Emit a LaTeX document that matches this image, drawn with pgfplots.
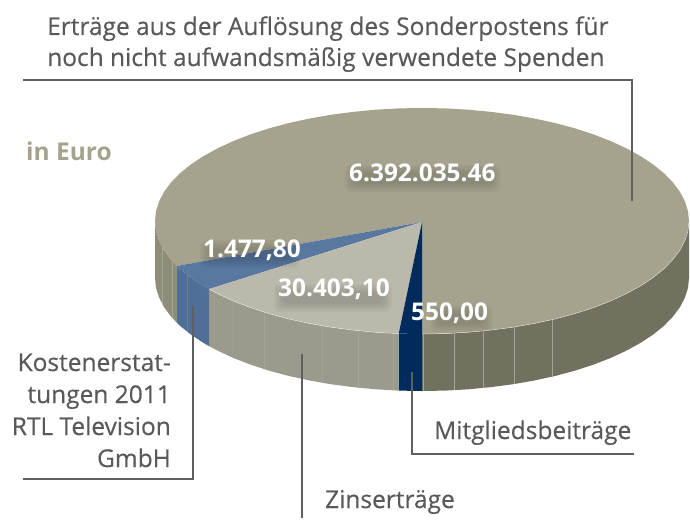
\documentclass[border=0pt]{standalone}
\usepackage{pgfplots}
\pgfplotsset{compat=1.18}
\usepackage{fontspec}
\setmainfont{Open Sans}
\definecolor{bigtop}{HTML}{A5A38E}
\definecolor{bigside}{HTML}{72715F}
\definecolor{bigleft}{HTML}{8E8D7A}
\definecolor{bluetop}{HTML}{5878A0}
\definecolor{blueside}{HTML}{4F6F99}
\definecolor{greytop}{HTML}{BBB9AB}
\definecolor{greyside}{HTML}{9A9A8D}
\definecolor{navy}{HTML}{002B5C}
\definecolor{stripe}{HTML}{A5A597}
\definecolor{lead}{HTML}{5F5F5F}
\definecolor{txt}{HTML}{58595B}
\newcommand{\shr}[3]{\fill[black,opacity=0.03,rounded corners=6pt] ([shift={(#3,#3)}]axis cs:#1) rectangle ([shift={(-#3,-#3)}]axis cs:#2);}
\newcommand{\shd}[2]{\shr{#1}{#2}{0pt}\shr{#1}{#2}{2pt}\shr{#1}{#2}{4pt}\shr{#1}{#2}{6pt}\shr{#1}{#2}{8pt}}
\newcommand{\lbl}[2]{\node[anchor=base west,inner sep=0pt,text=white,font=\fontsize{24.4}{24.4}\selectfont\bfseries] at (axis cs:#1) {#2};}
\newcommand{\txt}[3][base west]{\node[anchor=#1,inner sep=0pt,text=txt,font=\fontsize{24.5}{24.5}\selectfont\addfontfeature{FakeBold=0.35}] at (axis cs:#2) {#3};}
\begin{document}
\begin{tikzpicture}
\begin{axis}[scale only axis,width=690pt,height=518pt,xmin=0,xmax=690,ymin=0,ymax=518,y dir=reverse,axis lines=none,clip=false]
\path (axis cs:0,0) rectangle (axis cs:690,518);
% big slice side (right)
\addplot[draw=none,fill=bigside] coordinates {(689,221)(688,230.9)(684.9,240.6)(679.9,250.2)(672.9,259.6)(664,268.8)(653.2,277.5)(640.7,285.8)(626.5,293.6)(610.8,300.9)(593.6,307.6)(575.1,313.6)(555.5,318.9)(534.8,323.4)(513.3,327.2)(491.1,330.1)(468.4,332.3)(445.3,333.6)(422,334)(422,391)(445.3,390.6)(468.4,389.3)(491.1,387.1)(513.3,384.2)(534.8,380.4)(555.5,375.9)(575.1,370.6)(593.6,364.6)(610.8,357.9)(626.5,350.6)(640.7,342.8)(653.2,334.5)(664,325.8)(672.9,316.6)(679.9,307.2)(684.9,297.6)(688,287.9)(689,278)} -- cycle;
% navy side
\addplot[draw=none,fill=navy] coordinates {(422,334)(398.7,333.6)(398.7,390.6)(422,391)} -- cycle;
% grey side
\addplot[draw=none,fill=greyside] coordinates {(398.7,333.6)(375.6,332.3)(352.9,330.1)(330.7,327.2)(309.2,323.4)(288.5,318.9)(268.9,313.6)(250.4,307.6)(233.2,300.9)(217.5,293.6)(209,289.1)(209,346.1)(217.5,350.6)(233.2,357.9)(250.4,364.6)(268.9,370.6)(288.5,375.9)(309.2,380.4)(330.7,384.2)(352.9,387.1)(375.6,389.3)(398.7,390.6)} -- cycle;
% blue side
\addplot[draw=none,fill=blueside] coordinates {(209,289.1)(203.3,285.8)(190.8,277.5)(180,268.8)(177,265.9)(177,322.9)(180,325.8)(190.8,334.5)(203.3,342.8)(209,346.1)} -- cycle;
% left side
\addplot[draw=none,fill=bigleft] coordinates {(177,265.9)(171.1,259.6)(164.1,250.2)(159.1,240.6)(156,230.9)(155,221)(155,278)(156,287.9)(159.1,297.6)(164.1,307.2)(171.1,316.6)(177,322.9)} -- cycle;
% stripes
\addplot[draw=stripe,line width=0.6pt] coordinates {(423,334)(423,391)};
\addplot[draw=stripe,line width=0.6pt] coordinates {(454,333.2)(454,390.2)};
\addplot[draw=stripe,line width=0.6pt] coordinates {(483,331)(483,388)};
\addplot[draw=stripe,line width=0.6pt] coordinates {(514,327)(514,384)};
\addplot[draw=stripe,line width=0.6pt] coordinates {(552,319.7)(552,376.7)};
\addplot[draw=stripe,line width=0.6pt,opacity=.3] coordinates {(232,300.4)(232,357.4)};
\addplot[draw=stripe,line width=0.6pt] coordinates {(264,312)(264,369)};
\addplot[draw=stripe,line width=0.6pt] coordinates {(322,325.8)(322,382.8)};
\addplot[draw=stripe,line width=0.6pt] coordinates {(358,330.7)(358,387.7)};
\addplot[draw=stripe,line width=0.6pt] coordinates {(393,333.3)(393,390.3)};
\addplot[draw=stripe,line width=0.6pt] coordinates {(162,246.7)(162,303.7)};
\addplot[draw=stripe,line width=0.6pt] coordinates {(172,260.7)(172,317.7)};
\addplot[draw=stripe,line width=0.4pt,opacity=.3] coordinates {(187,274.7)(187,331.7)};
% top faces
\addplot[draw=none,fill=bigtop] coordinates {(422,222)(422,334)(445.3,333.6)(468.4,332.3)(491.1,330.1)(513.3,327.2)(534.8,323.4)(555.5,318.9)(575.1,313.6)(593.6,307.6)(610.8,300.9)(626.5,293.6)(640.7,285.8)(653.2,277.5)(664,268.8)(672.9,259.6)(679.9,250.2)(684.9,240.6)(688,230.9)(689,221)(688,211.1)(684.9,201.4)(679.9,191.8)(672.9,182.4)(664,173.2)(653.2,164.5)(640.7,156.2)(626.5,148.4)(610.8,141.1)(593.6,134.4)(575.1,128.4)(555.5,123.1)(534.8,118.6)(513.3,114.8)(491.1,111.9)(468.4,109.7)(445.3,108.4)(422,108)(398.7,108.4)(375.6,109.7)(352.9,111.9)(330.7,114.8)(309.2,118.6)(288.5,123.1)(268.9,128.4)(250.4,134.4)(233.2,141.1)(217.5,148.4)(203.3,156.2)(190.8,164.5)(180,173.2)(171.1,182.4)(164.1,191.8)(159.1,201.4)(156,211.1)(155,221)(156,230.9)(159.1,240.6)(164.1,250.2)(171.1,259.6)(177,265.9)} -- cycle;
\addplot[draw=none,fill=bluetop] coordinates {(422,222)(177,265.9)(180,268.8)(190.8,277.5)(203.3,285.8)(209,289.1)} -- cycle;
\addplot[draw=none,fill=greytop] coordinates {(422,222)(209,289.1)(217.5,293.6)(233.2,300.9)(250.4,307.6)(268.9,313.6)(288.5,318.9)(309.2,323.4)(330.7,327.2)(352.9,330.1)(375.6,332.3)(398.7,333.6)} -- cycle;
\addplot[draw=none,fill=navy] coordinates {(422,222)(398.7,333.6)(422,334)} -- cycle;
% rim highlight
\addplot[draw=white,opacity=.55,line width=0.5pt] coordinates {(689,221)(688,230.9)(684.9,240.6)(679.9,250.2)(672.9,259.6)(664,268.8)(653.2,277.5)(640.7,285.8)(626.5,293.6)(610.8,300.9)(593.6,307.6)(575.1,313.6)(555.5,318.9)(534.8,323.4)(513.3,327.2)(491.1,330.1)(468.4,332.3)(445.3,333.6)(422,334)};
\addplot[draw=white,opacity=.55,line width=0.5pt] coordinates {(398.7,333.6)(375.6,332.3)(352.9,330.1)(330.7,327.2)(309.2,323.4)(288.5,318.9)(268.9,313.6)(250.4,307.6)(233.2,300.9)(217.5,293.6)(209,289.1)};
% leaders
\addplot[draw=lead,line width=2pt] coordinates {(23,80)(632,80)(632,201)};
\addplot[draw=lead,line width=2pt] coordinates {(23,479)(193,479)(193,306)};
\addplot[draw=lead,line width=2pt] coordinates {(302,354)(302,518)};
\addplot[draw=lead,line width=2pt] coordinates {(412,372)(412,454)(634,454)};
% soft shadows behind the value labels
\shd{345,192}{500,165}
\shd{200,268}{300,240}
\shd{274,312}{392,284}
\shd{430,332}{492,305}
% text
\txt{47,35}{Erträge aus der Auflösung des Sonderpostens für}
\txt{47,66}{noch nicht aufwandsmäßig verwendete Spenden}
\node[anchor=base west,inner sep=0pt,text=bigtop,font=\fontsize{24.5}{24.5}\selectfont\bfseries] at (axis cs:26,160) {in Euro};
\txt[base east]{171,371}{Kostenerstat-}
\txt[base east]{171,403}{tungen 2011}
\txt[base east]{171,435}{RTL Television}
\txt[base east]{171,467}{GmbH}
\txt{434,439}{Mitgliedsbeiträge}
\txt{325,508}{Zinserträge}
\lbl{349,181}{6.392.035.46}
\lbl{203,257}{1.477,80}
\lbl{278,296}{30.403,10}
\lbl{411,320}{550,00}
\end{axis}
\end{tikzpicture}
\end{document}
